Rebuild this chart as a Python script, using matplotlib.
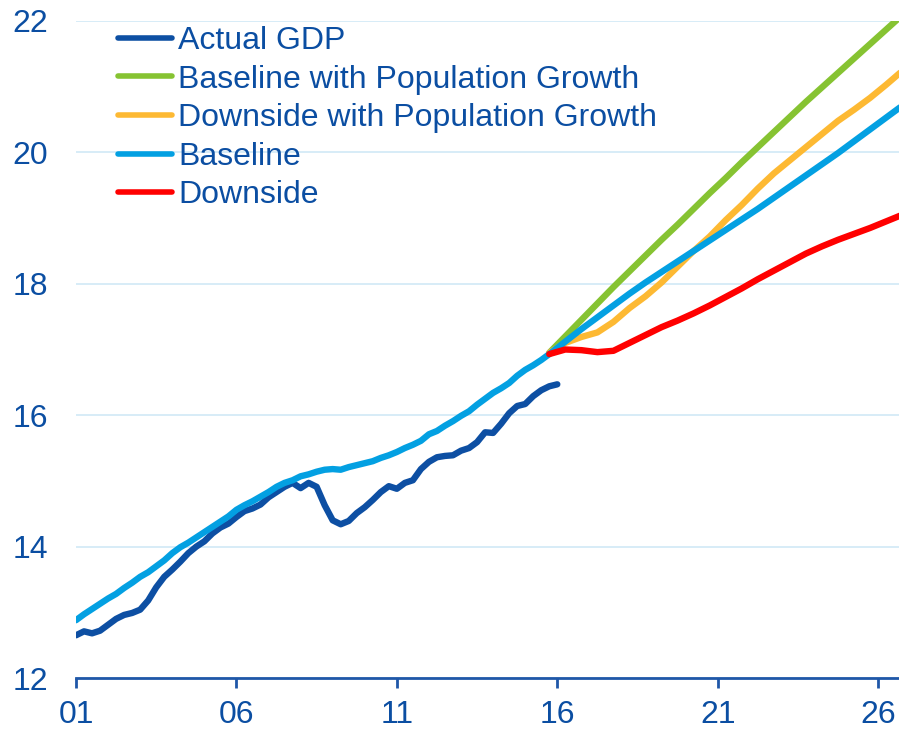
import numpy as np
import matplotlib.pyplot as plt

plt.rcParams['font.family'] = ['Liberation Sans', 'DejaVu Sans']

# quarterly history, 2001Q1 .. 2016Q1
actual_gdp = [12.65, 12.71, 12.68, 12.72, 12.81, 12.90, 12.96, 12.99, 13.04, 13.18,
              13.38, 13.54, 13.65, 13.77, 13.90, 14.00, 14.08, 14.20, 14.29, 14.35,
              14.45, 14.54, 14.58, 14.64, 14.75, 14.83, 14.91, 14.97, 14.89, 14.97,
              14.91, 14.63, 14.40, 14.34, 14.39, 14.51, 14.60, 14.71, 14.83, 14.92,
              14.88, 14.97, 15.01, 15.18, 15.29, 15.36, 15.38, 15.39, 15.46, 15.50,
              15.59, 15.74, 15.73, 15.87, 16.03, 16.14, 16.17, 16.29, 16.38, 16.44,
              16.47]

# baseline trend, 2001Q1 .. 2015Q4
baseline_hist = [12.88, 12.97, 13.05, 13.13, 13.21, 13.28, 13.37, 13.45, 13.54, 13.61,
                 13.70, 13.79, 13.90, 13.99, 14.06, 14.14, 14.22, 14.30, 14.38, 14.46,
                 14.56, 14.63, 14.69, 14.76, 14.83, 14.91, 14.97, 15.01, 15.07, 15.10,
                 15.14, 15.17, 15.18, 15.17, 15.21, 15.24, 15.27, 15.30, 15.35, 15.39,
                 15.44, 15.50, 15.55, 15.61, 15.71, 15.76, 15.84, 15.91, 15.99, 16.06,
                 16.16, 16.25, 16.34, 16.41, 16.49, 16.60, 16.69, 16.76, 16.84, 16.93]

# projections, half-yearly from 2015Q4
baseline_proj = [16.93, 17.12, 17.31, 17.49, 17.67, 17.85, 18.02, 18.18, 18.34, 18.50,
                 18.66, 18.82, 18.98, 19.14, 19.31, 19.48, 19.65, 19.82, 19.99, 20.17,
                 20.35, 20.53, 20.71]
baseline_pop = [16.95, 17.20, 17.45, 17.70, 17.95, 18.19, 18.43, 18.67, 18.90, 19.14,
                19.38, 19.61, 19.85, 20.08, 20.31, 20.54, 20.77, 20.99, 21.21, 21.43,
                21.65, 21.87, 22.09]
downside_pop = [16.95, 17.10, 17.19, 17.26, 17.42, 17.63, 17.81, 18.02, 18.26, 18.50,
                18.72, 18.97, 19.20, 19.45, 19.68, 19.88, 20.08, 20.28, 20.48, 20.65,
                20.83, 21.03, 21.24]
downside = [16.93, 17.00, 16.99, 16.96, 16.98, 17.10, 17.22, 17.34, 17.44, 17.55,
            17.67, 17.80, 17.93, 18.07, 18.20, 18.33, 18.46, 18.57, 18.67, 18.76,
            18.85, 18.95, 19.05]

x_ticks = [2001, 2006, 2011, 2016, 2021, 2026]
x_labels = ['01', '06', '11', '16', '21', '26']
y_ticks = [12, 14, 16, 18, 20, 22]

DARK = '#0d4fa3'
GREEN = '#86c332'
ORANGE = '#fdb933'
LIGHT = '#03a0e2'
RED = '#ff0000'
TEXT = '#0b4ea2'

t_actual = 2001 + np.arange(len(actual_gdp)) * 0.25
t_hist = 2001 + np.arange(len(baseline_hist)) * 0.25
t_proj = 2015.75 + np.arange(len(baseline_proj)) * 0.5
t_base = np.concatenate([t_hist, t_proj[1:]])
base = baseline_hist + baseline_proj[1:]

fig = plt.figure(figsize=(8.99, 7.31), dpi=100)
ax = fig.add_axes([76 / 899, 53 / 731, 823 / 899, 657 / 731])

lw = 4.6
ax.plot(t_actual, actual_gdp, color=DARK, lw=lw, solid_capstyle='round', label='Actual GDP', zorder=3)
ax.plot(t_proj, baseline_pop, color=GREEN, lw=lw, solid_capstyle='round',
        label='Baseline with Population Growth', zorder=3)
ax.plot(t_proj, downside_pop, color=ORANGE, lw=lw, solid_capstyle='round',
        label='Downside with Population Growth', zorder=3)
ax.plot(t_base, base, color=LIGHT, lw=lw, solid_capstyle='round', label='Baseline', zorder=4)
ax.plot(t_proj, downside, color=RED, lw=lw, solid_capstyle='round', label='Downside', zorder=5)

ax.set_xlim(2001, 2026.65)
ax.set_ylim(12, 22)
ax.set_xticks(x_ticks)
ax.set_xticklabels(x_labels)
ax.set_yticks(y_ticks)

for s in ['top', 'right', 'left']:
    ax.spines[s].set_visible(False)
ax.spines['bottom'].set_color('#1f57a8')
ax.spines['bottom'].set_linewidth(2.0)

ax.yaxis.grid(True, color='#d4ebf7', lw=1.3)
ax.set_axisbelow(True)
ax.tick_params(axis='y', length=0, pad=20, labelsize=23, labelcolor=TEXT)
ax.tick_params(axis='x', length=7, width=2, color='#1f57a8', pad=9,
               labelsize=23, labelcolor=TEXT)

leg = ax.legend(loc='upper left', bbox_to_anchor=(0.035, 1.012), frameon=False,
                fontsize=23, handlelength=1.7, handletextpad=0.2, labelspacing=0.27,
                borderaxespad=0)
for txt in leg.get_texts():
    txt.set_color(TEXT)
for line in leg.get_lines():
    line.set_linewidth(4.0)

fig.savefig('out.png', dpi=100)
